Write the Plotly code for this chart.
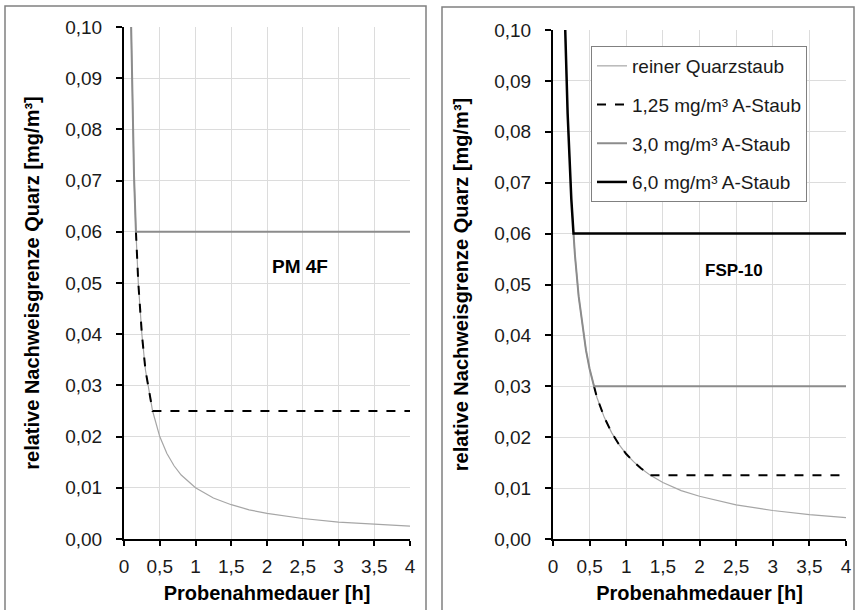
import plotly.graph_objects as go

W, H = 857, 610

# ---------------- data ----------------
# Left panel: PM 4F
pm_t_pure = [0.10, 0.12, 0.14, 0.167, 0.20, 0.25, 0.30, 0.35, 0.40, 0.50, 0.60, 0.70, 0.80, 1.00,
             1.25, 1.50, 1.75, 2.00, 2.50, 3.00, 3.50, 4.00]
pm_y_pure = [0.100, 0.083, 0.071, 0.060, 0.050, 0.040, 0.033, 0.029, 0.025, 0.020, 0.0167, 0.0143,
             0.0125, 0.0100, 0.0080, 0.0067, 0.0057, 0.0050, 0.0040, 0.0033, 0.0029, 0.0025]
pm_t_125 = [0.167, 0.20, 0.25, 0.30, 0.35, 0.40, 4.00]
pm_y_125 = [0.060, 0.050, 0.040, 0.033, 0.029, 0.025, 0.025]
pm_t_30 = [0.10, 0.12, 0.14, 0.167, 4.00]
pm_y_30 = [0.100, 0.083, 0.071, 0.060, 0.060]

# Right panel: FSP-10
fsp_t_pure = [0.167, 0.20, 0.25, 0.28, 0.30, 0.35, 0.40, 0.45, 0.50, 0.56, 0.60, 0.70, 0.80, 0.90,
              1.00, 1.10, 1.20, 1.33, 1.50, 1.75, 2.00, 2.50, 3.00, 3.50, 4.00]
fsp_y_pure = [0.100, 0.0835, 0.0668, 0.060, 0.0557, 0.0477, 0.0418, 0.0371, 0.0334, 0.030, 0.0278,
              0.0239, 0.0209, 0.0186, 0.0167, 0.0152, 0.0139, 0.0125, 0.0111, 0.0095, 0.0084,
              0.0067, 0.0056, 0.0048, 0.0042]
fsp_t_125 = [0.56, 0.60, 0.70, 0.80, 0.90, 1.00, 1.10, 1.20, 1.33, 4.00]
fsp_y_125 = [0.030, 0.0278, 0.0239, 0.0209, 0.0186, 0.0167, 0.0152, 0.0139, 0.0125, 0.0125]
fsp_t_30 = [0.28, 0.30, 0.35, 0.40, 0.45, 0.50, 0.56, 4.00]
fsp_y_30 = [0.060, 0.0557, 0.0477, 0.0418, 0.0371, 0.0334, 0.030, 0.030]
fsp_t_60 = [0.167, 0.20, 0.25, 0.28, 4.00]
fsp_y_60 = [0.100, 0.0835, 0.0668, 0.060, 0.060]

names = ["reiner Quarzstaub", "1,25 mg/m³ A-Staub", "3,0 mg/m³ A-Staub", "6,0 mg/m³ A-Staub"]
x_ticks = [0, 0.5, 1, 1.5, 2, 2.5, 3, 3.5, 4]
y_ticks = [0, 0.01, 0.02, 0.03, 0.04, 0.05, 0.06, 0.07, 0.08, 0.09, 0.10]

styles = [
    dict(color="#a6a6a6", width=1.2),
    dict(color="#000000", width=2, dash="dash"),
    dict(color="#8c8c8c", width=2),
    dict(color="#000000", width=2.5),
]

FONT = "Liberation Sans, Arial, sans-serif"

fig = go.Figure()

# left panel
left = [(pm_t_pure, pm_y_pure, 0), (pm_t_125, pm_y_125, 1), (pm_t_30, pm_y_30, 2)]
for t, y, k in left:
    fig.add_trace(go.Scatter(x=t, y=y, mode="lines", line=styles[k], name=names[k],
                             showlegend=False, xaxis="x", yaxis="y", hoverinfo="skip"))

# right panel
right = [(fsp_t_pure, fsp_y_pure, 0), (fsp_t_125, fsp_y_125, 1), (fsp_t_30, fsp_y_30, 2),
         (fsp_t_60, fsp_y_60, 3)]
for t, y, k in right:
    fig.add_trace(go.Scatter(x=t, y=y, mode="lines", line=styles[k], name=names[k],
                             legendgroup=f"g{k}", showlegend=True,
                             xaxis="x2", yaxis="y2", hoverinfo="skip"))

def px(v):
    return v / W

def py(v):
    return 1 - v / H

tickfont = dict(family=FONT, size=19, color="#1a1a1a")
titlefont = dict(family=FONT, size=20, color="#000000")

def xaxis(domain, anchor):
    return dict(domain=domain, anchor=anchor, range=[0, 4], tickvals=x_ticks,
                ticktext=[("%g" % v).replace(".", ",") for v in x_ticks],
                showgrid=True, gridcolor="#dcdcdc", gridwidth=1,
                showline=True, linecolor="#000000", linewidth=2,
                ticks="outside", ticklen=5, tickwidth=2, tickcolor="#000000",
                tickfont=tickfont, zeroline=False, automargin=False,
                ticklabelstandoff=4,
                title=dict(text="<b>Probenahmedauer [h]</b>", font=titlefont, standoff=10))

def yaxis(domain, anchor):
    return dict(domain=domain, anchor=anchor, range=[0, 0.10], tickvals=y_ticks,
                ticktext=[("%.2f" % v).replace(".", ",") for v in y_ticks],
                showgrid=True, gridcolor="#dcdcdc", gridwidth=1,
                showline=True, linecolor="#000000", linewidth=2,
                ticks="outside", ticklen=6, tickwidth=2, tickcolor="#000000",
                tickfont=tickfont, zeroline=False, automargin=False,
                ticklabelstandoff=10,
                title=dict(text="<b>relative Nachweisgrenze Quarz [mg/m³]</b>", font=titlefont,
                           standoff=20))

fig.update_layout(
    width=W, height=H,
    margin=dict(l=0, r=0, t=0, b=0, autoexpand=False),
    paper_bgcolor="white", plot_bgcolor="white",
    xaxis=xaxis([px(124), px(410)], "y"),
    yaxis=yaxis([py(539), py(27)], "x"),
    xaxis2=xaxis([px(553), px(846)], "y2"),
    yaxis2=yaxis([py(539), py(30)], "x2"),
    showlegend=True,
    legend=dict(x=px(591), y=py(46), xanchor="left", yanchor="top",
                bgcolor="white", bordercolor="#808080", borderwidth=1,
                font=dict(family=FONT, size=19, color="#1a1a1a"),
                tracegroupgap=11, itemwidth=30, traceorder="grouped"),
    annotations=[
        dict(text="<b>PM 4F</b>", x=px(300), y=py(266), xref="paper", yref="paper",
             showarrow=False, font=dict(family=FONT, size=19, color="#000000")),
        dict(text="<b>FSP-10</b>", x=px(765), y=py(270), xref="paper", yref="paper",
             showarrow=False, font=dict(family=FONT, size=17, color="#000000")),
    ],
    shapes=[
        dict(type="rect", xref="paper", yref="paper", x0=px(5), x1=px(426), y0=-0.05, y1=py(6),
             line=dict(color="#808080", width=1.5), layer="below"),
        dict(type="rect", xref="paper", yref="paper", x0=px(442), x1=px(854), y0=-0.05, y1=py(7),
             line=dict(color="#808080", width=1.5), layer="below"),
    ],
)

fig.write_html("out.html", config={"displayModeBar": False},
               post_script="document.body.style.margin='0';")
